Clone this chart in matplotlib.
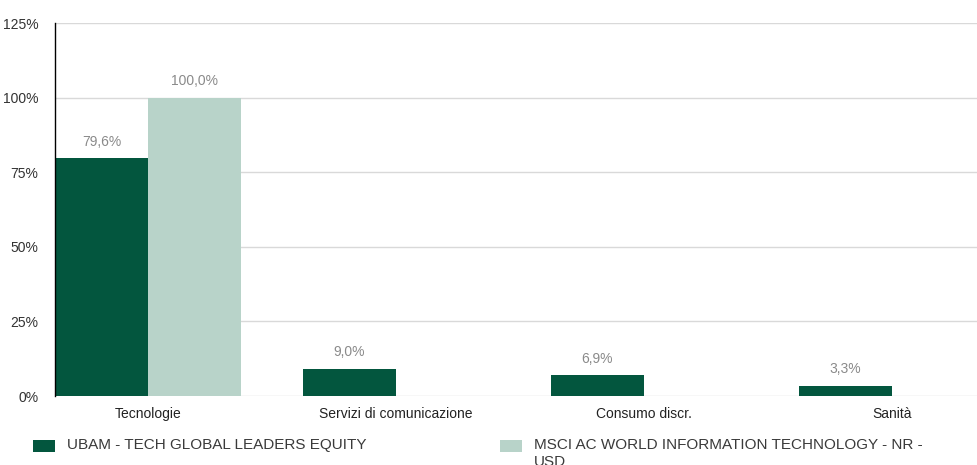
import matplotlib
matplotlib.use("Agg")
import matplotlib.pyplot as plt
from matplotlib.patches import Rectangle
import numpy as np

categories = ["Tecnologie", "Servizi di comunicazione", "Consumo discr.", "Sanità"]
ubam = [79.6, 9.0, 6.9, 3.3]
msci = [100.0, 0.0, 0.0, 0.0]
series_names = ["UBAM - TECH GLOBAL LEADERS EQUITY", "MSCI AC WORLD INFORMATION TECHNOLOGY - NR -\nUSD"]
yticks = [0, 25, 50, 75, 100, 125]

dark = "#03563E"
light = "#B8D3C9"

plt.rcParams['font.family'] = ["Liberation Sans", 'DejaVu Sans']

fig = plt.figure(figsize=(9.77, 4.65), dpi=100)
ax = fig.add_axes([55/977, 1-396/465, 1-55/977, (396-23)/465])

x = np.arange(len(categories))
w = 0.375
b1 = ax.bar(x - w/2, ubam, w, color=dark, zorder=3)
b2 = ax.bar(x + w/2, msci, w, color=light, zorder=3)

def fmt(v):
    return f"{v:.1f}".replace(".", ",") + "%"

for bars, vals in ((b1, ubam), (b2, msci)):
    for r, v in zip(bars, vals):
        if v > 0:
            ax.annotate(fmt(v), (r.get_x() + r.get_width()/2, v), xytext=(0, 7),
                        textcoords="offset points", ha="center", va="bottom",
                        fontsize=10, color="#8a8a8a")

ax.set_xlim(-w, (977-148)/248)
ax.set_ylim(0, 125)
ax.set_yticks(yticks)
ax.set_yticklabels([f"{t}%" for t in yticks], fontsize=10, color="#333333")
ax.set_xticks(x)
ax.set_xticklabels(categories, fontsize=10, color="#222222")
ax.tick_params(axis="both", length=0)
ax.tick_params(axis="y", pad=12)
ax.tick_params(axis="x", pad=8)
ax.grid(axis="y", color="#d9d9d9", linewidth=1, zorder=0)
for s in ("top", "right", "bottom"):
    ax.spines[s].set_visible(False)
ax.spines["left"].set_color("#000000")
ax.spines["left"].set_linewidth(1)
ax.spines["left"].set_zorder(4)

# legend
H = 465; W = 977
for (lx, tx, col, name) in ((33, 67, dark, series_names[0]), (500, 534, light, series_names[1])):
    fig.patches.append(Rectangle((lx/W, 1-452/H), 22/W, 12/H, transform=fig.transFigure,
                                 facecolor=col, edgecolor="none"))
    fig.text(tx/W, 1-438/H, name, transform=fig.transFigure, ha="left", va="top",
             fontsize=11, color="#3a3a3a", linespacing=1.3)

fig.savefig("out.png", dpi=100)
